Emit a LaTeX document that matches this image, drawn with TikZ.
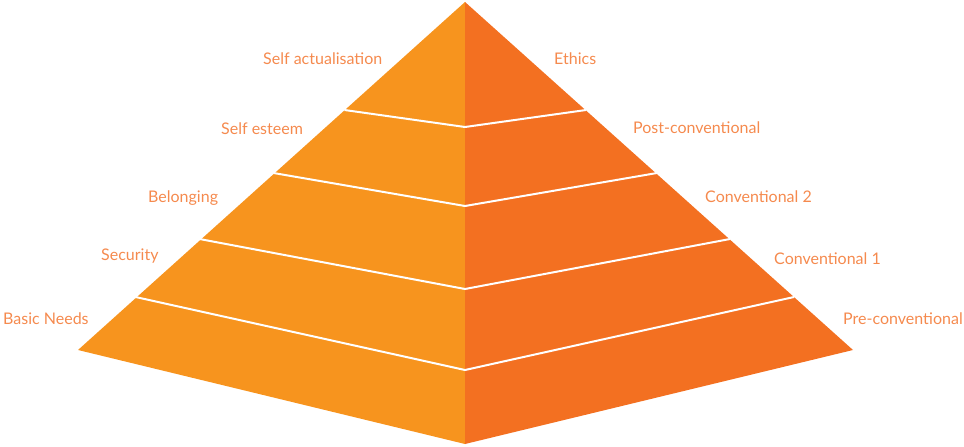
\documentclass[tikz,border=0pt]{standalone}
\usepackage{fontspec}
\setmainfont{Lato}
\definecolor{leftface}{HTML}{F7941E}
\definecolor{rightface}{HTML}{F37021}
\definecolor{labelc}{HTML}{F58A4E}
\begin{document}
\begin{tikzpicture}[x=1pt,y=-1pt,
  band/.style={draw=white,line width=2pt},
  lbl/.style={text=labelc,font=\fontsize{16}{18}\selectfont,inner sep=0pt,anchor=base west}]
\useasboundingbox (0,0) rectangle (964,447);
% key points
\coordinate (apex) at (465,2);
\coordinate (lc) at (78,350);
\coordinate (rc) at (853,350);
\coordinate (bot) at (465,444);
\fill[leftface] (apex) -- (lc) -- (bot) -- cycle;
\fill[rightface] (apex) -- (rc) -- (bot) -- cycle;
% band lines
\coordinate (l1) at (344.5,110); \coordinate (c1) at (465,127); \coordinate (r1) at (586,110);
\coordinate (l2) at (273.5,173); \coordinate (c2) at (465,206); \coordinate (r2) at (657,173);
\coordinate (l3) at (199.5,239); \coordinate (c3) at (465,289); \coordinate (r3) at (730,239);
\coordinate (l4) at (135.5,297); \coordinate (c4) at (465,370); \coordinate (r4) at (794,297);
\draw[band] (l1) -- (c1) -- (r1);
\draw[band] (l2) -- (c2) -- (r2);
\draw[band] (l3) -- (c3) -- (r3);
\draw[band] (l4) -- (c4) -- (r4);
% labels
\node[lbl] (sa) at (263,64) {Self actualisation};
\node[lbl] (se) at (221,134) {Self esteem};
\node[lbl] (be) at (148,202) {Belonging};
\node[lbl] (sec) at (101,260) {Security};
\node[lbl] (bn) at (3,324) {Basic Needs};
\node[lbl] (et) at (554,64) {Ethics};
\node[lbl] (pc) at (633,133) {Post-conventional};
\node[lbl] (c2l) at (705,202) {Conventional 2};
\node[lbl] (c1l) at (774,264) {Conventional 1};
\node[lbl] (prc) at (843,324) {Pre-conventional};
\end{tikzpicture}
\end{document}
